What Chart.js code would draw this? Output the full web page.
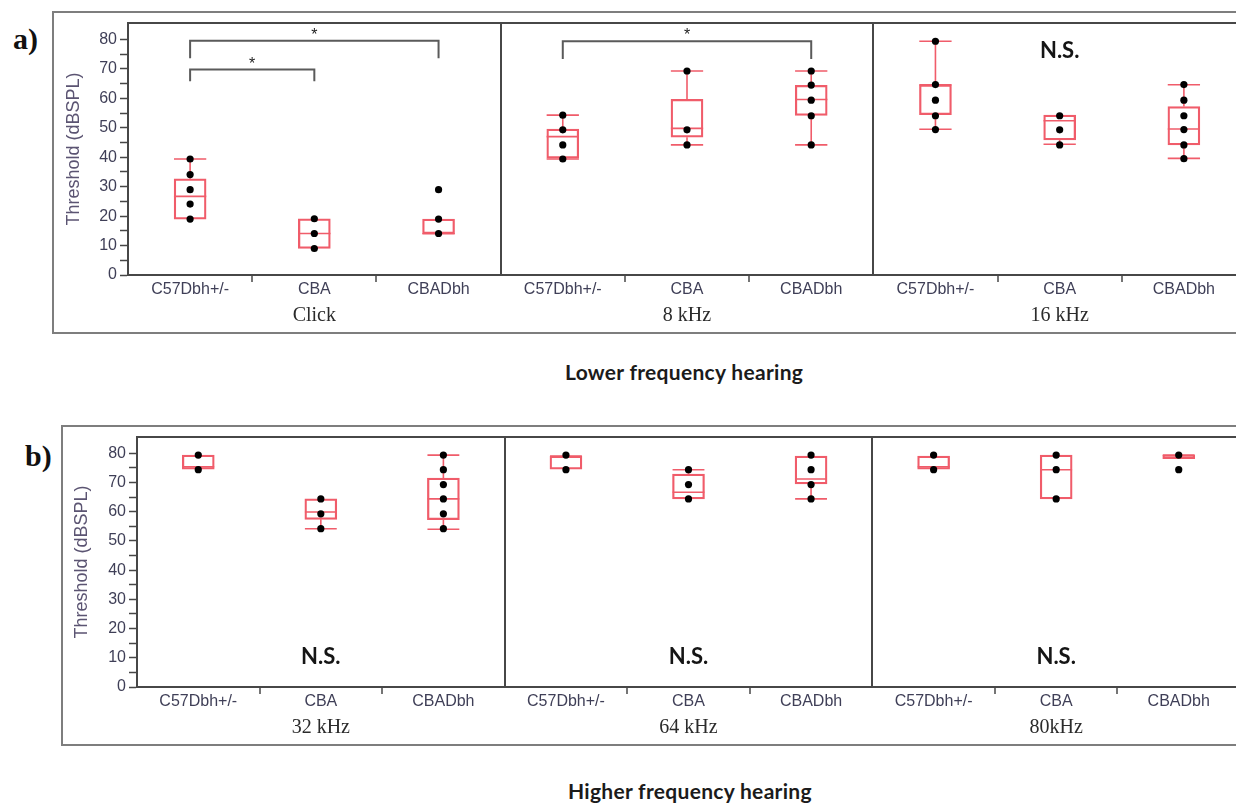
<!DOCTYPE html>
<html>
<head>
<meta charset="utf-8">
<title>Hearing thresholds by strain</title>
<script src="https://cdn.jsdelivr.net/npm/chart.js@4.4.1/dist/chart.umd.min.js"></script>
<style>
  html, body { margin: 0; padding: 0; background: #fff; width: 1236px; height: 803px; overflow: hidden; position: relative; }
  .frame { position: absolute; border: 2px solid #7e7e7e; box-sizing: border-box; }
  .tag { position: absolute; font: bold 30px "Liberation Serif", serif; line-height: 30px; color: #111; }
  .caption { position: absolute; font: bold 21px Lato, sans-serif; letter-spacing: 0.3px; line-height: 22px; color: #1b1b1b; white-space: nowrap; }
  canvas { position: absolute; left: 0; }
</style>
</head>
<body>
<div class="frame" style="left:52px;top:11px;width:1260px;height:323px"></div>
<div class="frame" style="left:61px;top:425px;width:1260px;height:321px"></div>
<div class="tag" style="left:13px;top:24px">a)</div>
<div class="tag" style="left:25px;top:441px">b)</div>
<canvas id="lowerChart" width="1300" height="340" style="top:0"></canvas>
<canvas id="higherChart" width="1300" height="340" style="top:414px"></canvas>
<div class="caption" style="left:565px;top:361px">Lower frequency hearing</div>
<div class="caption" style="left:568px;top:780px">Higher frequency hearing</div>

<script>
// Strains tested within each stimulus band
const strains = ['C57Dbh+/-', 'CBA', 'CBADbh'];
const lowerBands = ['Click', '8 kHz', '16 kHz'];
const higherBands = ['32 kHz', '64 kHz', '80kHz'];
const yTicks = [0, 10, 20, 30, 40, 50, 60, 70, 80];

// Lower frequency thresholds (dB SPL), band by band, strain by strain
const lowerMin    = [19.0,  9.0, 14.0, 39.4, 44.2, 44.2, 49.5, 44.4, 39.6];
const lowerQ1     = [19.0,  9.0, 14.0, 39.7, 46.8, 54.2, 54.5, 45.9, 44.2];
const lowerMedian = [26.7, 14.1, 14.0, 47.0, 49.8, 59.6, 64.6, 52.4, 49.6];
const lowerQ3     = [32.7, 19.1, 19.0, 49.6, 59.7, 64.4, 64.6, 54.3, 57.2];
const lowerMax    = [39.4, 19.1, 19.0, 54.3, 69.3, 69.3, 79.4, 54.3, 64.6];
const lowerPoints = [
  [19.0, 24.1, 29.0, 34.1, 39.4],
  [9.0, 14.1, 19.1],
  [14.1, 19.0, 29.0],
  [39.4, 44.2, 49.3, 54.3],
  [44.2, 49.3, 69.3],
  [44.2, 54.1, 59.4, 64.5, 69.3],
  [49.4, 54.1, 59.4, 64.7, 79.4],
  [44.2, 49.3, 54.1],
  [39.5, 44.2, 49.4, 54.1, 59.4, 64.7]
];
// Pairwise comparisons marked significant (strain slots within the row)
const lowerSigFrom  = [0, 0, 3];
const lowerSigTo    = [2, 1, 5];
const lowerSigLevel = [79.6, 69.8, 79.4];

// Higher frequency thresholds (dB SPL)
const higherMin    = [74.6, 54.2, 54.0, 74.6, 64.4, 64.4, 74.6, 64.4, 78.2];
const higherQ1     = [74.6, 57.4, 57.3, 74.6, 64.4, 69.5, 74.6, 64.4, 78.2];
const higherMedian = [75.4, 59.9, 64.4, 79.1, 66.7, 71.2, 75.4, 74.4, 79.4];
const higherQ3     = [79.4, 64.4, 71.5, 79.1, 72.9, 79.1, 79.1, 79.4, 79.4];
const higherMax    = [79.4, 64.4, 79.4, 79.1, 74.4, 79.1, 79.1, 79.4, 79.4];
const higherPoints = [
  [74.4, 79.4],
  [54.2, 59.3, 64.4],
  [54.2, 59.3, 64.4, 69.3, 74.4, 79.4],
  [74.4, 79.4],
  [64.4, 69.3, 74.4],
  [64.4, 69.3, 74.4, 79.4],
  [74.4, 79.4],
  [64.4, 74.4, 79.4],
  [74.4, 79.4]
];

// "N.S." notes: panel index and threshold level where the note sits
const lowerNsPanels = [2];
const lowerNsLevel = 76;
const higherNsPanels = [0, 1, 2];
const higherNsLevel = 10.3;

// ---- styling ----
const AXIS = '#474747';
const BOX = '#f05c6a';
const BOX_HALF = 0.13;     // half box width in slot units
const BOX_PX = 32;
const TEXT = '#3f3f57';

Chart.defaults.font.family = '"Liberation Sans", Arial, sans-serif';

function centre(i) { return i + 0.5; }

function boxLines(lo, q1, med, q3, hi) {
  const pts = [];
  const seg = (x1, y1, x2, y2) => { pts.push({x: x1, y: y1}, {x: x2, y: y2}, {x: x2, y: null}); };
  med.forEach((m, i) => {
    const c = centre(i);
    seg(c - BOX_HALF, m, c + BOX_HALF, m);
    if (hi[i] > q3[i] + 0.3) { seg(c, q3[i], c, hi[i]); seg(c - BOX_HALF, hi[i], c + BOX_HALF, hi[i]); }
    if (lo[i] < q1[i] - 0.3) { seg(c, lo[i], c, q1[i]); seg(c - BOX_HALF, lo[i], c + BOX_HALF, lo[i]); }
  });
  return pts;
}

function bracketLines(from, to, level) {
  const pts = [];
  const drops = [6, 4, 6];
  from.forEach((f, k) => {
    const a = centre(f), b = centre(to[k]), l = level[k], d = drops[k % drops.length];
    pts.push({x: a, y: l - d}, {x: a, y: l}, {x: b, y: l}, {x: b, y: l - d}, {x: b, y: null});
  });
  return pts;
}

// Frame, band names, significance stars and N.S. notes
const panelNotes = {
  id: 'panelNotes',
  beforeDatasetsDraw(chart) {
    const {ctx, chartArea: a} = chart;
    ctx.save();
    ctx.strokeStyle = AXIS;
    ctx.lineWidth = 2;
    ctx.strokeRect(a.left, a.top, a.right - a.left, a.bottom - a.top);
    ctx.restore();
  },
  afterDraw(chart, args, opts) {
    const {ctx, chartArea: a, scales: {x, y}} = chart;
    ctx.save();
    ctx.textAlign = 'center';
    ctx.fillStyle = '#2b2b2b';
    ctx.textBaseline = 'middle';
    ctx.font = '20px "Liberation Serif", serif';
    opts.bands.forEach((b, p) => ctx.fillText(b, x.getPixelForValue(p * 3 + 1.5), a.bottom + 41));

    ctx.fillStyle = '#222';
    ctx.font = '16px "Liberation Sans", sans-serif';
    ctx.textBaseline = 'alphabetic';
    (opts.sigFrom || []).forEach((f, k) => {
      const mid = (centre(f) + centre(opts.sigTo[k])) / 2;
      ctx.fillText('*', x.getPixelForValue(mid), y.getPixelForValue(opts.sigLevel[k]) - 1);
    });

    ctx.fillStyle = '#151515';
    ctx.font = 'bold 22px Lato, sans-serif';
    ctx.textBaseline = 'middle';
    opts.nsPanels.forEach(p => ctx.fillText('N.S.', x.getPixelForValue(p * 3 + 1.5), y.getPixelForValue(opts.nsLevel)));
    ctx.restore();
  }
};

function makeChart(id, d) {
  const boxes = d.q1.map((v, i) => ({x: centre(i), y: [v, d.q3[i]]}));
  const dots = d.points.flatMap((vals, i) => vals.map(v => ({x: centre(i), y: v})));
  const datasets = [
    { type: 'scatter', label: 'Thresholds', data: dots, order: 0,
      pointRadius: 3.6, pointBackgroundColor: '#000', pointBorderWidth: 0, showLine: false },
    { type: 'line', label: 'Median / whiskers', data: boxLines(d.lo, d.q1, d.med, d.q3, d.hi), order: 1,
      borderColor: BOX, borderWidth: 1.6, pointRadius: 0, spanGaps: false, tension: 0 },
    { type: 'bar', label: 'Interquartile range', data: boxes, order: 2,
      backgroundColor: 'rgba(0,0,0,0)', borderColor: BOX, borderWidth: 1.6, borderSkipped: false,
      barThickness: BOX_PX, grouped: false }
  ];
  if (d.sigFrom) {
    datasets.push({ type: 'line', label: 'Comparisons', data: bracketLines(d.sigFrom, d.sigTo, d.sigLevel), order: 3,
      borderColor: '#5a5a5a', borderWidth: 2, pointRadius: 0, spanGaps: false, tension: 0 });
  }
  const slotTicks = [];
  for (let v = 0; v <= 9; v += 0.5) slotTicks.push(v);

  return new Chart(document.getElementById(id), {
    type: 'bar',
    data: { datasets },
    plugins: [panelNotes],
    options: {
      responsive: false,
      animation: false,
      events: [],
      layout: { padding: d.padding },
      plugins: {
        legend: { display: false },
        tooltip: { enabled: false },
        panelNotes: { bands: d.bands, sigFrom: d.sigFrom, sigTo: d.sigTo, sigLevel: d.sigLevel,
                      nsPanels: d.nsPanels, nsLevel: d.nsLevel }
      },
      scales: {
        x: {
          type: 'linear', min: 0, max: 9, offset: false,
          afterBuildTicks: s => { s.ticks = slotTicks.map(v => ({value: v})); },
          afterFit: s => { s.height = d.xHeight; },
          ticks: {
            autoSkip: false, maxRotation: 0, minRotation: 0, padding: 0,
            color: TEXT, font: { size: 16, lineHeight: 1.0 },
            callback: v => Number.isInteger(v) ? '' : strains[Math.floor(v) % 3]
          },
          grid: {
            offset: false,
            drawOnChartArea: true,
            color: c => (c.tick && (c.tick.value === 3 || c.tick.value === 6)) ? AXIS : 'rgba(0,0,0,0)',
            lineWidth: 2,
            tickLength: 7,
            tickWidth: 1.5,
            tickColor: c => {
              const v = c.tick ? c.tick.value : 0;
              return (Number.isInteger(v) && v % 3 !== 0) ? AXIS : 'rgba(0,0,0,0)';
            }
          },
          border: { display: true, color: AXIS, width: 2 }
        },
        y: {
          type: 'linear', min: 0, max: 85.6,
          afterBuildTicks: s => { s.ticks = []; for (let v = 0; v <= 80; v += 5) s.ticks.push({value: v}); },
          afterFit: s => { s.width = d.yWidth; },
          ticks: {
            autoSkip: false, padding: 3, color: TEXT, font: { size: 16 },
            callback: v => yTicks.includes(v) ? String(v) : ''
          },
          grid: { drawOnChartArea: false, tickLength: 8, tickColor: AXIS, tickWidth: 1.5 },
          border: { display: true, color: AXIS, width: 2 },
          title: { display: true, text: 'Threshold (dBSPL)', color: '#5b5472', font: { size: 18 },
                   padding: { top: 4, bottom: 0 } }
        }
      }
    }
  });
}

makeChart('lowerChart', {
  lo: lowerMin, q1: lowerQ1, med: lowerMedian, q3: lowerQ3, hi: lowerMax, points: lowerPoints,
  bands: lowerBands, sigFrom: lowerSigFrom, sigTo: lowerSigTo, sigLevel: lowerSigLevel,
  nsPanels: lowerNsPanels, nsLevel: lowerNsLevel,
  padding: { top: 23, left: 59, right: 54, bottom: 0 }, yWidth: 69, xHeight: 65
});

makeChart('higherChart', {
  lo: higherMin, q1: higherQ1, med: higherMedian, q3: higherQ3, hi: higherMax, points: higherPoints,
  bands: higherBands, nsPanels: higherNsPanels, nsLevel: higherNsLevel,
  padding: { top: 23, left: 67, right: 60, bottom: 0 }, yWidth: 70, xHeight: 67
});
</script>
</body>
</html>
